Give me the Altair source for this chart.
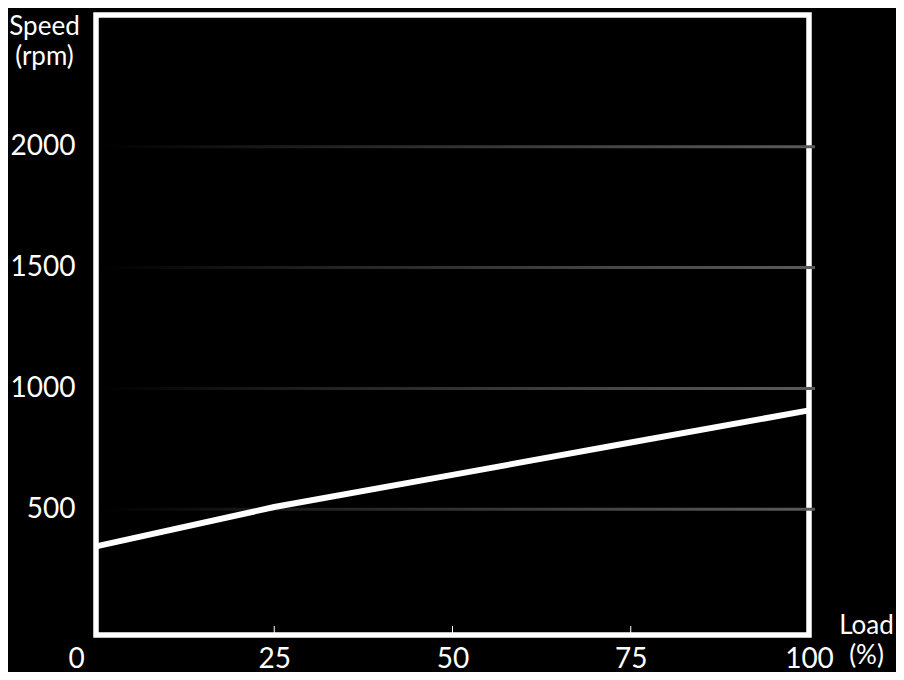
import altair as alt
import pandas as pd

# values
load_pct = [0, 25, 50, 75, 100]
speed_rpm = [346, 509, 642, 776, 909]
x_ticks = [0, 25, 50, 75, 100]
y_ticks = [500, 1000, 1500, 2000]
inner_ticks = [25, 50, 75]

W, H = 713, 620
FONT = "Lato"

curve = pd.DataFrame({"load": load_pct, "speed": speed_rpm})
grid = pd.DataFrame({"speed": y_ticks})
marks = pd.DataFrame({"load": inner_ticks})

x_scale = alt.Scale(domain=[0, 100], nice=False)
y_scale = alt.Scale(domain=[0, 2525], nice=False, zero=True)

x_axis = alt.Axis(
    values=x_ticks, ticks=False, domain=False, grid=False, labelFlush=False,
    format="d", labelFont=FONT, labelFontSize=28, labelColor="white",
    labelPadding=10,
    labelOffset={"condition": {"test": "datum.value === 0", "value": -20}, "value": 0},
    title=["Load", "(%)"], titleAngle=0, titleX=770, titleY=-2,
    titleAlign="center", titleBaseline="alphabetic", titleFont=FONT,
    titleFontSize=26, titleFontWeight="normal", titleColor="white",
    titleLineHeight=30)

y_axis = alt.Axis(
    values=y_ticks, ticks=False, domain=False, grid=False, labelFlush=False,
    format="d", labelFont=FONT, labelFontSize=28, labelColor="white",
    labelPadding=21,
    title=["Speed", "(rpm)"], titleAngle=0, titleX=-52, titleY=19,
    titleAlign="center", titleBaseline="alphabetic", titleFont=FONT,
    titleFontSize=26, titleFontWeight="normal", titleColor="white",
    titleLineHeight=30)

# faded grid lines, dark on the left and grey on the right
fade = alt.LinearGradient(
    gradient="linear",
    stops=[alt.GradientStop(color="#000000", offset=0),
           alt.GradientStop(color="#202020", offset=0.3),
           alt.GradientStop(color="#444444", offset=0.7),
           alt.GradientStop(color="#5a5a5a", offset=1)],
    x1=0, x2=1, y1=0, y2=0)

gridlines = alt.Chart(grid).mark_bar(orient="horizontal", size=3, color=fade).encode(
    y=alt.Y("speed:Q", scale=y_scale, axis=y_axis),
    x=alt.value(4),
    x2=alt.value(W + 6))

ticks = alt.Chart(marks).mark_rule(color="white", strokeWidth=1).encode(
    x=alt.X("load:Q", scale=x_scale, axis=x_axis),
    y=alt.value(H),
    y2=alt.value(H - 9))

line = alt.Chart(curve).mark_line(color="white", strokeWidth=6).encode(
    x=alt.X("load:Q", scale=x_scale, axis=x_axis),
    y=alt.Y("speed:Q", scale=y_scale, axis=y_axis))

chart = alt.layer(gridlines, ticks, line).properties(
    width=W,
    height=H,
    padding={"left": 88, "top": 7, "right": 87, "bottom": 37},
    autosize=alt.AutoSizeParams(type="none"),
    background="black"
).configure_view(
    stroke="white",
    strokeWidth=5.5
)

chart.save("out.html", embed_options={"renderer": "svg", "actions": False})
